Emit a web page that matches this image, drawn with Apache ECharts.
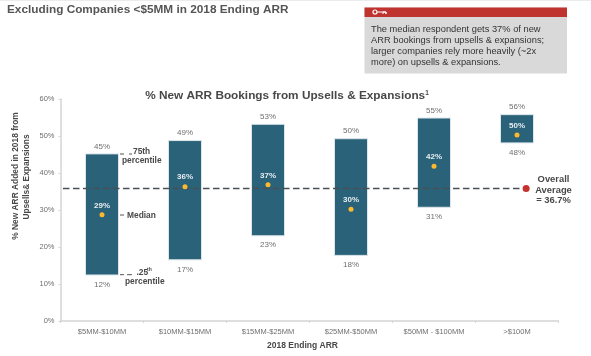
<!DOCTYPE html>
<html>
<head>
<meta charset="utf-8">
<style>
	html, body { margin: 0; padding: 0; background: #fff; }
	#chartDiv { width: 591px; height: 356px; }
</style>
<script src="https://cdn.jsdelivr.net/npm/echarts@6/dist/echarts.min.js"></script>
</head>
<body>
<div id="chartDiv"></div>
<script>
const categories = ['$5MM-$10MM', '$10MM-$15MM', '$15MM-$25MM', '$25MM-$50MM', '$50MM - $100MM', '>$100M'];
const p25Values = [12.3, 16.4, 22.9, 17.6, 30.6, 48.0];
const p75Values = [45.3, 48.9, 53.3, 49.4, 55.0, 55.9];
const medianValues = [28.7, 36.3, 36.8, 30.2, 41.8, 50.3];
const p25Labels = ['12%', '17%', '23%', '18%', '31%', '48%'];
const p75Labels = ['45%', '49%', '53%', '50%', '55%', '56%'];
const medianLabels = ['29%', '36%', '37%', '30%', '42%', '50%'];
const overallLevel = 35.8;
const overallSpan = [0.03, 5.61];
const calloutLines = [
	'The median respondent gets 37% of new',
	'ARR bookings from upsells & expansions;',
	'larger companies rely more heavily (~2x',
	'more) on upsells & expansions.'
];

const fontName = '"Liberation Sans", Arial, sans-serif';
const darkText = '#484848';
const greyText = '#6f6f6f';
const axisGrey = '#d4d4d4';

const labelText = (x, y, text, extra) => ({
	type: 'text',
	x: x,
	y: y,
	z: 20,
	style: Object.assign({
		text: text,
		fontFamily: fontName,
		fontSize: 8.4,
		fontWeight: 'bold',
		fill: darkText,
		textVerticalAlign: 'middle'
	}, extra)
});

const sideText = (x, y, text) => Object.assign(labelText(x, y, text, { textAlign: 'center' }), { rotation: Math.PI / 2 });

const tick = (x1, x2, y) => ({
	type: 'line',
	z: 20,
	shape: { x1: x1, y1: y, x2: x2, y2: y },
	style: { stroke: '#555', lineWidth: 1 }
});

chartInit = () => {
	let chartContent = echarts.init(document.getElementById('chartDiv'));
	let chartOption = {
		backgroundColor: '#fff',
		animation: false,
		title: {
			text: '% New ARR Bookings from Upsells & Expansions{sup|1}',
			left: 287,
			top: 90,
			textAlign: 'center',
			padding: 0,
			textStyle: {
				fontFamily: fontName,
				fontSize: 11.8,
				fontWeight: 'bold',
				color: darkText,
				rich: {
					sup: { fontSize: 6.5, fontWeight: 'bold', color: darkText, verticalAlign: 'top', padding: [0, 0, 4, 0] }
				}
			}
		},
		grid: { left: 60.5, right: 32.5, top: 99, bottom: 35, outerBoundsMode: 'none' },
		xAxis: [{
			type: 'category',
			data: categories,
			name: '2018 Ending ARR',
			nameLocation: 'middle',
			nameGap: 19,
			nameTextStyle: { fontFamily: fontName, fontSize: 8.5, fontWeight: 'bold', color: darkText, padding: [0, 14, 0, 0] },
			axisLine: { lineStyle: { color: axisGrey, width: 1.5 } },
			axisTick: { show: true, length: 2, lineStyle: { color: axisGrey } },
			axisLabel: { fontFamily: fontName, fontSize: 7.5, color: greyText, margin: 7, interval: 0 }
		}, {
			type: 'value',
			min: 0,
			max: 6,
			show: false
		}],
		yAxis: {
			type: 'value',
			min: 0,
			max: 60,
			interval: 10,
			axisLine: { show: true, lineStyle: { color: axisGrey, width: 1.5 } },
			axisTick: { show: true, length: 2, lineStyle: { color: axisGrey } },
			splitLine: { show: false },
			axisLabel: { fontFamily: fontName, fontSize: 7.5, color: greyText, margin: 6, formatter: '{value}%' }
		},
		series: [{
			name: 'p25',
			type: 'bar',
			stack: 'box',
			barWidth: 34,
			itemStyle: { color: 'transparent' },
			label: {
				show: true,
				position: 'insideTop',
				distance: 5,
				fontFamily: fontName,
				fontSize: 8,
				color: greyText,
				formatter: p => p25Labels[p.dataIndex]
			},
			data: p25Values
		}, {
			name: 'p75',
			type: 'bar',
			stack: 'box',
			barWidth: 34,
			itemStyle: { color: '#2a627a', borderColor: '#dce6ea', borderWidth: 1 },
			label: {
				show: true,
				position: 'top',
				distance: 3,
				fontFamily: fontName,
				fontSize: 8,
				color: greyText,
				formatter: p => p75Labels[p.dataIndex]
			},
			data: p75Values.map((v, i) => +(v - p25Values[i]).toFixed(1))
		}, {
			name: 'overall',
			type: 'line',
			xAxisIndex: 1,
			z: 5,
			symbol: 'none',
			lineStyle: { color: '#4a4f54', width: 1.5, type: [6.5, 3.5] },
			data: overallSpan.map(x => [x, overallLevel])
		}, {
			name: 'overallDot',
			type: 'scatter',
			xAxisIndex: 1,
			z: 6,
			symbolSize: 7,
			itemStyle: { color: '#c5332f', opacity: 1 },
			data: [[overallSpan[1], overallLevel]]
		}, {
			name: 'median',
			type: 'scatter',
			z: 7,
			symbolSize: 5,
			itemStyle: { color: '#fdb92e', opacity: 1 },
			label: {
				show: true,
				position: 'top',
				distance: 3,
				fontFamily: fontName,
				fontSize: 8,
				fontWeight: 'bold',
				color: '#e8eef1',
				formatter: p => medianLabels[p.dataIndex]
			},
			data: medianValues
		}],
		graphic: [
			{ type: 'rect', shape: { x: 0, y: 0, width: 591, height: 1 }, style: { fill: '#ececec' } },
			labelText(7, 10, 'Excluding Companies <$5MM in 2018 Ending ARR', { fontSize: 11.8, fill: '#555' }),
			{ type: 'rect', shape: { x: 364.5, y: 7.5, width: 202.5, height: 66 }, style: { fill: '#d9d9d9' } },
			{ type: 'rect', shape: { x: 364.5, y: 7.5, width: 202.5, height: 9.5 }, style: { fill: '#c0342f' } },
			{ type: 'circle', shape: { cx: 375, cy: 12, r: 2 }, style: { fill: 'none', stroke: '#fff', lineWidth: 1.2 } },
			{ type: 'polyline', shape: { points: [[377, 12], [386, 12], [386, 14], [386, 12], [383, 12], [383, 14]] }, style: { fill: 'none', stroke: '#fff', lineWidth: 1 } },
			sideText(16, 176, '% New ARR Added in 2018 from'),
			sideText(27, 177, 'Upsells& Expansions')
		].concat(
			calloutLines.map((line, i) => labelText(371, 29 + i * 11.1, line, { fontSize: 9.3, fontWeight: 'normal', fill: '#333' })),
			[
				// callouts next to the first bar
				tick(120, 124, 154), tick(129, 132, 154),
				labelText(133, 152, '75th', {}),
				labelText(122, 160.7, 'percentile', {}),
				tick(120, 124, 215),
				labelText(127, 215.5, 'Median', {}),
				tick(120, 124, 274.7), tick(127, 132, 274.7),
				labelText(136.5, 273, '.25', {}),
				labelText(147, 270, 'th', { fontSize: 5 }),
				labelText(125, 281.5, 'percentile', {}),
				labelText(553.5, 179, 'Overall', { fontSize: 9.4, textAlign: 'center' }),
				labelText(553.5, 190, 'Average', { fontSize: 9.4, textAlign: 'center' }),
				labelText(553.5, 200, '= 36.7%', { fontSize: 9.4, textAlign: 'center' })
			]
		)
	};
	chartContent.setOption(chartOption);
}
chartInit();
</script>
</body>
</html>
